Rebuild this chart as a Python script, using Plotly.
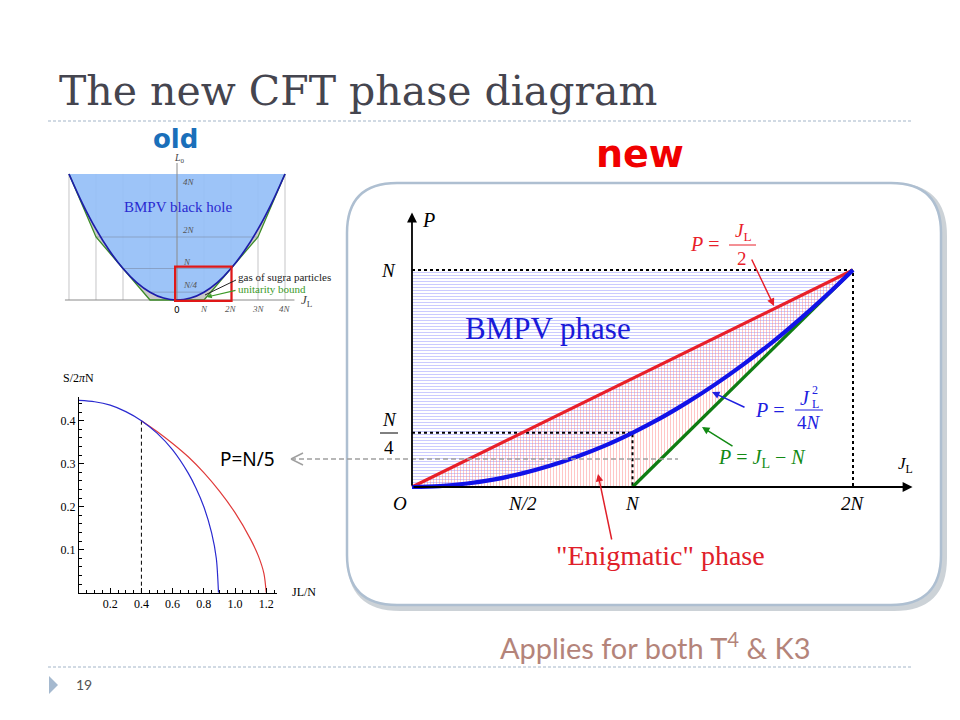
import plotly.graph_objects as go

W, H = 960, 720
OFF = 8  # page body margin of the browser
def px(x): return (x - OFF) / W
def py(y): return 1 - (y - OFF) / H

# ---------------- data ----------------
# "old" phase diagram (units of N)
old_J = [-4, -3.5, -3, -2.5, -2, -1.5, -1, -0.5, 0, 0.5, 1, 1.5, 2, 2.5, 3, 3.5, 4]
old_L0 = [4, 3.063, 2.25, 1.563, 1, 0.563, 0.25, 0.063, 0, 0.063, 0.25, 0.563, 1, 1.563, 2.25, 3.063, 4]
old_bound_J = [-4, -3, -1, 1, 3, 4]
old_bound_L0 = [4, 2, 0, 0, 2, 4]
old_vgrid_J = [-4, -3, -2, -1, 1, 2, 3, 4]
old_hgrid_L0 = [0.25, 1, 2]
old_hgrid_half = [1, 2, 3]
old_xtick_vals = [1, 2, 3, 4]
old_xtick_text = ["N", "2N", "3N", "4N"]
old_ytick_vals = [4, 2, 1, 0.25]
old_ytick_text = ["4N", "2N", "N", "N/4"]

# entropy plot S/2piN vs JL/N at P = N/5
ent_bmpv_J = [0, 0.1, 0.2, 0.3, 0.4, 0.5, 0.6, 0.7, 0.75, 0.8, 0.85, 0.88, 0.894]
ent_bmpv_S = [0.447, 0.444, 0.436, 0.421, 0.400, 0.371, 0.332, 0.278, 0.243, 0.200, 0.139, 0.080, 0.0]
ent_enig_J = [0.4, 0.5, 0.6, 0.7, 0.8, 0.9, 1.0, 1.1, 1.15, 1.185, 1.2]
ent_enig_S = [0.4, 0.375, 0.347, 0.316, 0.279, 0.236, 0.186, 0.124, 0.085, 0.045, 0.0]
ent_xtick_vals = [0.2, 0.4, 0.6, 0.8, 1.0, 1.2]
ent_xtick_text = ["0.2", "0.4", "0.6", "0.8", "1.0", "1.2"]
ent_ytick_vals = [0.1, 0.2, 0.3, 0.4]
ent_ytick_text = ["0.1", "0.2", "0.3", "0.4"]
ent_cut_J = 0.4

# "new" phase diagram (units of N)
new_J = [0, 0.125, 0.25, 0.375, 0.5, 0.625, 0.75, 0.875, 1, 1.125, 1.25, 1.375, 1.5, 1.625, 1.75, 1.875, 2]
new_bmpv_P = [0, 0.004, 0.016, 0.035, 0.063, 0.098, 0.141, 0.191, 0.25, 0.316, 0.391, 0.473, 0.563, 0.660, 0.766, 0.879, 1]
new_red_J = [0, 2]
new_red_P = [0, 1]
new_green_J = [1, 2]
new_green_P = [0, 1]
new_top_P = 1
new_xtick_vals = [0.5, 1, 2]
new_xtick_text = ["N/2", "N", "2N"]

SERIF = "Liberation Serif"

fig = go.Figure()

# ---------------- old diagram ----------------
vx, vy = [], []
for j in old_vgrid_J:
    vx += [j, j, None]
    vy += [0, 4, None]
fig.add_trace(go.Scatter(x=vx, y=vy, mode="lines", line=dict(color="rgba(150,150,155,0.55)", width=1),
                         xaxis="x", yaxis="y", hoverinfo="skip"))
fig.add_trace(go.Scatter(x=old_bound_J + old_J[::-1], y=old_bound_L0 + old_L0[::-1],
                         fill="toself", fillcolor="#c9c9c9", line=dict(width=0),
                         mode="lines", xaxis="x", yaxis="y", hoverinfo="skip"))
fig.add_trace(go.Scatter(x=old_J, y=old_L0, fill="toself", fillcolor="rgba(150,192,247,0.93)",
                         line=dict(width=0), mode="lines", xaxis="x", yaxis="y", hoverinfo="skip"))
hx, hy = [], []
for l, hw in zip(old_hgrid_L0, old_hgrid_half):
    hx += [-hw, hw, None]
    hy += [l, l, None]
fig.add_trace(go.Scatter(x=hx, y=hy, mode="lines", line=dict(color="rgba(110,120,140,0.45)", width=1),
                         xaxis="x", yaxis="y", hoverinfo="skip"))
fig.add_trace(go.Scatter(x=[-4.15, 4.35, None, 0, 0], y=[0, 0, None, 0, 4.35], mode="lines",
                         line=dict(color="#8a8a8a", width=1), xaxis="x", yaxis="y", hoverinfo="skip"))
fig.add_trace(go.Scatter(x=old_bound_J, y=old_bound_L0, mode="lines",
                         line=dict(color="#3d8c28", width=1.3), xaxis="x", yaxis="y", hoverinfo="skip"))
fig.add_trace(go.Scatter(x=old_J, y=old_L0, mode="lines", line=dict(color="#1c1caa", width=1.7, shape="spline"),
                         xaxis="x", yaxis="y", hoverinfo="skip"))

# ---------------- entropy plot ----------------
fig.add_trace(go.Scatter(x=[ent_cut_J, ent_cut_J], y=[0, ent_enig_S[0]], mode="lines",
                         line=dict(color="black", width=1, dash="4px,3px"), xaxis="x2", yaxis="y2", hoverinfo="skip"))
fig.add_trace(go.Scatter(x=ent_enig_J, y=ent_enig_S, mode="lines",
                         line=dict(color="#e03a3a", width=1.2, shape="spline", smoothing=0.8),
                         xaxis="x2", yaxis="y2", hoverinfo="skip"))
fig.add_trace(go.Scatter(x=ent_bmpv_J, y=ent_bmpv_S, mode="lines",
                         line=dict(color="#2a2ad0", width=1.2, shape="spline", smoothing=0.8),
                         xaxis="x2", yaxis="y2", hoverinfo="skip"))

# ---------------- new diagram ----------------
fig.add_trace(go.Scatter(x=new_J + [0], y=new_bmpv_P + [new_top_P], fill="toself",
                         fillcolor="rgba(0,0,0,0)", mode="lines", line=dict(width=0),
                         fillpattern=dict(shape="-", fgcolor="rgb(140,140,255)", size=3, solidity=0.3),
                         xaxis="x3", yaxis="y3", hoverinfo="skip"))
fig.add_trace(go.Scatter(x=[0] + new_green_J + new_red_J[::-1], y=[0] + new_green_P + new_red_P[::-1],
                         fill="toself", fillcolor="rgba(0,0,0,0)", mode="lines", line=dict(width=0),
                         fillpattern=dict(shape="|", fgcolor="rgb(255,130,130)", size=3, solidity=0.3),
                         xaxis="x3", yaxis="y3", hoverinfo="skip"))
dot = dict(color="black", width=2, dash="dot")
fig.add_trace(go.Scatter(x=[0, 2, 2, None, 0, 1, 1], y=[1, 1, 0, None, 0.25, 0.25, 0], mode="lines",
                         line=dot, xaxis="x3", yaxis="y3", hoverinfo="skip"))
fig.add_trace(go.Scatter(x=new_red_J, y=new_red_P, mode="lines", line=dict(color="#e8202a", width=3.2),
                         xaxis="x3", yaxis="y3", hoverinfo="skip"))
fig.add_trace(go.Scatter(x=new_green_J, y=new_green_P, mode="lines", line=dict(color="#0f7d12", width=3.2),
                         xaxis="x3", yaxis="y3", hoverinfo="skip"))
fig.add_trace(go.Scatter(x=new_J, y=new_bmpv_P, mode="lines", line=dict(color="#1212e8", width=4.2, shape="spline"),
                         xaxis="x3", yaxis="y3", hoverinfo="skip"))

ann = []
def T(text, x, y, size, color="black", family=SERIF, xa="center", ya="middle"):
    ann.append(dict(text=text, x=px(x), y=py(y), xref="paper", yref="paper", showarrow=False,
                    xanchor=xa, yanchor=ya, font=dict(size=size, color=color, family=family)))

def ARROW(tail, tip, color, width=1.5, head=2, size=1.0):
    ann.append(dict(text="", x=px(tip[0]), y=py(tip[1]), xref="paper", yref="paper",
                    ax=tail[0] - tip[0], ay=tail[1] - tip[1], axref="pixel", ayref="pixel",
                    showarrow=True, arrowhead=head, arrowsize=size, arrowwidth=width,
                    arrowcolor=color, standoff=0, startstandoff=0))

# main axes arrows (data coords)
ann.append(dict(text="", x=2.27, y=0, ax=0, ay=0, xref="x3", yref="y3", axref="x3", ayref="y3",
                showarrow=True, arrowhead=2, arrowsize=1.1, arrowwidth=1.8, arrowcolor="black", standoff=0))
ann.append(dict(text="", x=0, y=1.265, ax=0, ay=0, xref="x3", yref="y3", axref="x3", ayref="y3",
                showarrow=True, arrowhead=2, arrowsize=1.1, arrowwidth=1.8, arrowcolor="black", standoff=0))

# main tick labels
for v, t in zip(new_xtick_vals, new_xtick_text):
    ann.append(dict(text="<i>%s</i>" % t, x=v, y=0, xref="x3", yref="y3", yshift=-16, showarrow=False,
                    font=dict(size=19, family=SERIF, color="black")))
ann.append(dict(text="<i>O</i>", x=0, y=0, xref="x3", yref="y3", xshift=-12, yshift=-16, showarrow=False,
                font=dict(size=19, family=SERIF, color="black")))
ann.append(dict(text="<i>N</i>", x=0, y=new_top_P, xref="x3", yref="y3", xshift=-23, showarrow=False,
                font=dict(size=19, family=SERIF, color="black")))
T("<i>N</i>", 389, 419, 19)
T("4", 389, 447, 19)
T("<i>P</i>", 428, 220, 20)
T("<i>J</i><sub>L</sub>", 905, 465, 17)

# region labels
T("BMPV phase", 548, 328, 31, color="#1a1ad8")
T("\"Enigmatic\" phase", 660, 555, 28, color="#e0202a")
ARROW((612, 541), (598, 474), "#e0202a")

# red label P = J_L/2
T("<i>P</i> =", 722, 244, 20, color="#e8202a", xa="right")
T("<i>J</i><sub>L</sub>", 743, 232, 19, color="#e8202a")
T("2", 742, 258, 19, color="#e8202a")
ARROW((751, 258), (774, 306), "#e8202a")

# blue label P = J_L^2/4N
T("<i>P</i> =", 787, 410, 20, color="#2020e0", xa="right")
T("<i>J</i>", 805, 398, 20, color="#2020e0")
T("2", 815, 390, 12, color="#2020e0")
T("L", 815, 404, 12, color="#2020e0")
T("4<i>N</i>", 809, 423, 19, color="#2020e0")
ARROW((746, 408), (712, 392), "#2020e0")

# green label
T("<i>P</i> = <i>J</i><sub>L</sub> − <i>N</i>", 762, 458, 20, color="#128a14")
ARROW((734, 447), (702, 427), "#128a14")

# old diagram labels
T("<b>old</b>", 175, 139, 26, color="#1a6fba", family="DejaVu Sans")
for v, t in zip(old_ytick_vals, old_ytick_text):
    ann.append(dict(text="<i>%s</i>" % t, x=0.15, y=v, xref="x", yref="y", xanchor="left",
                    yshift=(-8 if v == 4 else 7), showarrow=False,
                    font=dict(size=9, family=SERIF, color="#555")))
for v, t in zip(old_xtick_vals, old_xtick_text):
    ann.append(dict(text="<i>%s</i>" % t, x=v, y=0, xref="x", yref="y", yshift=-9, showarrow=False,
                    font=dict(size=9, family=SERIF, color="#555")))
ann.append(dict(text="0", x=0, y=0, xref="x", yref="y", yshift=-10, showarrow=False,
                font=dict(size=9, family="DejaVu Sans", color="black")))
T("<i>L</i><sub>0</sub>", 179, 158, 10, color="#444")
T("<i>J</i><sub>L</sub>", 307, 300, 13, color="#444")
T("BMPV black hole", 178, 207, 15, color="#2a2ad0")
T("gas of sugra particles", 236, 277, 11, color="#222", xa="left")
T("unitarity bound", 236, 289, 11, color="#3c9a28", xa="left")
ARROW((237, 290), (207, 297), "#3c9a28", width=1.2, head=2, size=0.8)

# entropy labels
T("S/2<i>π</i>N", 78, 378, 12, color="black")
T("JL/N", 304, 592, 12, color="black")
T("P=N/5", 247, 459, 19, color="black", family="Noto Sans")

# slide text
T("The new CFT phase diagram", 57, 91, 41, color="#45454f", family="DejaVu Serif", xa="left")
T("<b>new</b>", 640, 154, 38, color="#f00000", family="DejaVu Sans")
T("Applies for both T<sup>4</sup> &amp; K3", 655, 646, 29, color="#b4847a", family="Lato")
T("19", 84, 684, 14, color="#555", family="Lato")

# ---------------- shapes ----------------
shapes = []
def LINE(x0, y0, x1, y1, color, width=1, dash=None, layer="above"):
    d = dict(type="line", xref="paper", yref="paper", x0=px(x0), y0=py(y0), x1=px(x1), y1=py(y1),
             line=dict(color=color, width=width), layer=layer)
    if dash:
        d["line"]["dash"] = dash
    shapes.append(d)

def rrect(x0, y0, x1, y1, r):
    P = lambda x, y: "%.5f,%.5f" % (px(x), py(y))
    return ("M " + P(x0 + r, y0) + " L " + P(x1 - r, y0) + " Q " + P(x1, y0) + " " + P(x1, y0 + r) +
            " L " + P(x1, y1 - r) + " Q " + P(x1, y1) + " " + P(x1 - r, y1) +
            " L " + P(x0 + r, y1) + " Q " + P(x0, y1) + " " + P(x0, y1 - r) +
            " L " + P(x0, y0 + r) + " Q " + P(x0, y0) + " " + P(x0 + r, y0) + " Z")

shapes.append(dict(type="path", xref="paper", yref="paper", path=rrect(350, 186, 944, 608, 50),
                   line=dict(color="rgba(110,125,140,0.35)", width=6), layer="below"))
shapes.append(dict(type="path", xref="paper", yref="paper", path=rrect(347, 183, 941, 605, 50),
                   fillcolor="white", line=dict(color="#aebfd1", width=2.5), layer="below"))

LINE(48, 121, 912, 121, "#a3b5c8", 1, "3px,2px")
LINE(48, 667, 912, 667, "#a3b5c8", 1, "3px,2px")
shapes.append(dict(type="path", xref="paper", yref="paper",
                   path="M %.5f,%.5f L %.5f,%.5f L %.5f,%.5f Z" % (px(49), py(676), px(58), py(685), px(49), py(694)),
                   fillcolor="#a5b9cf", line=dict(width=0)))

# N/4 fraction bar
LINE(380, 433, 398, 433, "black", 1)
# fraction bars of labels
LINE(729, 245, 756, 245, "#e8202a", 1)
LINE(795, 410, 823, 410, "#2020e0", 1)

# P = N/5 grey dashed pointer
LINE(291, 459, 678, 459, "#a0a0a0", 1.5, "5px,3px")
LINE(291, 459, 303, 453, "#a0a0a0", 1.5)
LINE(291, 459, 303, 465, "#a0a0a0", 1.5)

# old diagram red box
shapes.append(dict(type="rect", xref="x", yref="y", x0=-0.07, x1=2.02, y0=-0.03, y1=1.06,
                   line=dict(color="#e01818", width=2.2)))
# sugra pointer
LINE(236, 280, 205, 295, "#222", 1)

fig.update_layout(
    width=W, height=H, margin=dict(l=0, r=0, t=0, b=0),
    paper_bgcolor="white", plot_bgcolor="rgba(0,0,0,0)", showlegend=False,
    annotations=ann, shapes=shapes,
    xaxis=dict(domain=[px(60), px(320)], range=[-4.333, 5.296], visible=False, anchor="y"),
    yaxis=dict(domain=[py(310), py(140)], range=[-0.317, 5.079], visible=False, anchor="x"),
    xaxis2=dict(domain=[px(79), px(277)], range=[0, 1.269], anchor="y2", showline=True, linecolor="black",
                linewidth=1, ticks="inside", ticklen=5, tickcolor="black", tickvals=ent_xtick_vals,
                ticktext=ent_xtick_text, showgrid=False, zeroline=False,
                tickfont=dict(family=SERIF, size=12, color="black"),
                minor=dict(ticks="inside", ticklen=2.5, dtick=0.05, tick0=0, tickcolor="black", showgrid=False)),
    yaxis2=dict(domain=[py(592.7), py(397)], range=[0, 0.455], anchor="x2", showline=True, linecolor="black",
                linewidth=1, ticks="inside", ticklen=5, tickcolor="black", tickvals=ent_ytick_vals,
                ticktext=ent_ytick_text, showgrid=False, zeroline=False,
                tickfont=dict(family=SERIF, size=12, color="black"),
                minor=dict(ticks="inside", ticklen=2.5, dtick=0.02, tick0=0, tickcolor="black", showgrid=False)),
    xaxis3=dict(domain=[px(360), px(930)], range=[-0.2358, 2.3492], visible=False, anchor="y3"),
    yaxis3=dict(domain=[py(600), py(190)], range=[-0.5207, 1.3687], visible=False, anchor="x3"),
)

fig.write_html("out.html")
